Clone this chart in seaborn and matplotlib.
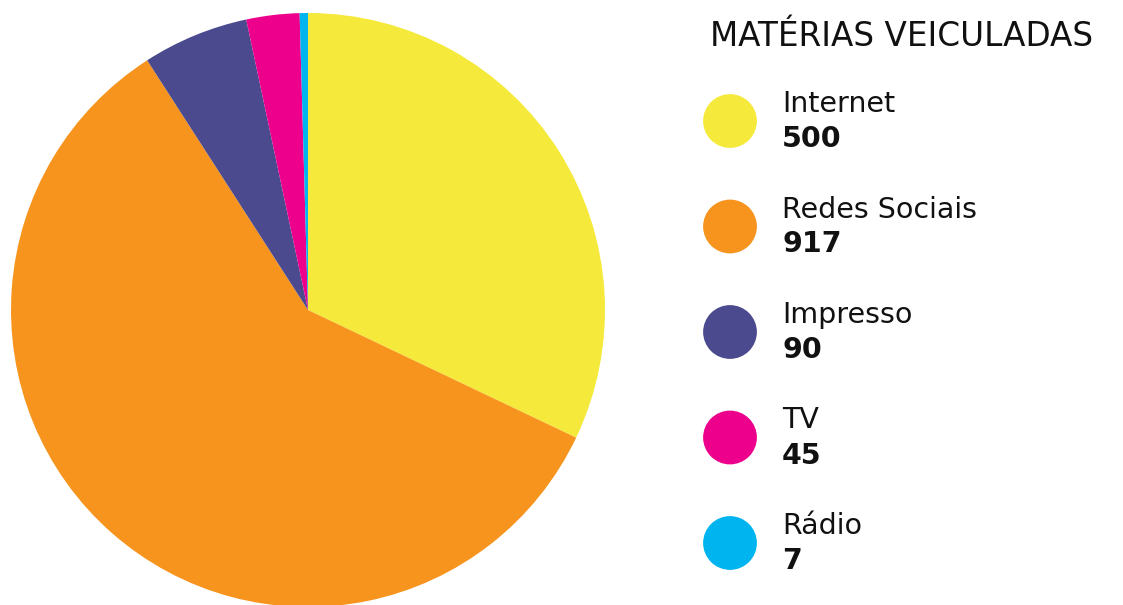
import numpy as np
import matplotlib.pyplot as plt
import seaborn as sns

# data
categories = ["Internet", "Redes Sociais", "Impresso", "TV", "Rádio"]
values = [500, 917, 90, 45, 7]
colors = ["#F5EA3C", "#F7941E", "#4B4A8F", "#EC008C", "#00B5EF"]
title = "MATÉRIAS VEICULADAS"

sns.set_theme(style="white")
plt.rcParams["font.family"] = ["DejaVu Sans"]

W, H = 1123, 605
fig = plt.figure(figsize=(W / 100, H / 100), dpi=100)
fig.patch.set_facecolor("white")

# pie: centre (308, 310), radius 297 px
cx, cy, r = 308, 310, 297
ax = fig.add_axes([(cx - r) / W, (H - cy - r) / H, 2 * r / W, 2 * r / H])
ax.pie(values, colors=colors, startangle=90, counterclock=False,
       wedgeprops=dict(linewidth=0))
ax.set_xlim(-1, 1)
ax.set_ylim(-1, 1)
ax.set_aspect("equal")
ax.axis("off")

# legend drawn in pixel coordinates
lg = fig.add_axes([0, 0, 1, 1])
lg.set_xlim(0, W)
lg.set_ylim(H, 0)
lg.axis("off")
lg.patch.set_alpha(0)

lg.text(710, 36, title, fontsize=23.5, color="#111111", va="center", ha="left")

y0, step = 121, 105.5
ys = [y0 + i * step for i in range(len(categories))]
sns.scatterplot(x=[730] * len(categories), y=ys, hue=categories, palette=colors,
                s=1500, linewidth=0, legend=False, ax=lg)
for name, val, y in zip(categories, values, ys):
    lg.text(782, y - 17, name, fontsize=20.5, color="#111111", va="center", ha="left")
    lg.text(782, y + 18, str(val), fontsize=20.5, fontweight="bold", color="#111111",
            va="center", ha="left")
lg.set_xlim(0, W)
lg.set_ylim(H, 0)

fig.savefig("out.png", dpi=100, facecolor="white")
